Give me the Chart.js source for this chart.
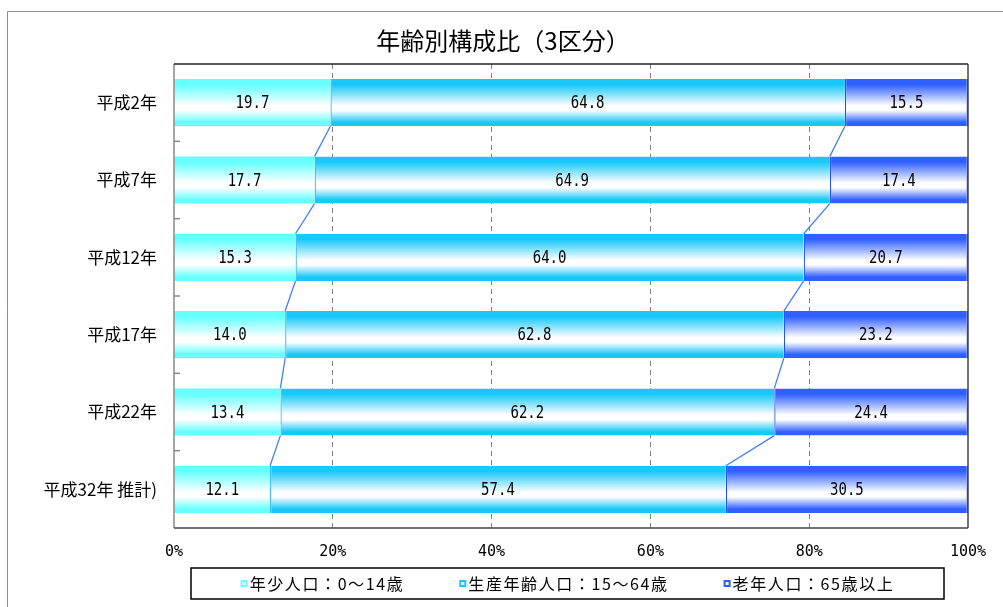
<!DOCTYPE html>
<html lang="ja">
<head>
<meta charset="utf-8">
<script src="https://cdn.jsdelivr.net/npm/chart.js@4.4.1/dist/chart.umd.min.js"></script>
<style>
html,body{margin:0;padding:0;background:#fff;}
canvas{display:block;}
</style>
</head>
<body>
<canvas id="canvas" width="1003" height="607"></canvas>
<script>
var years = ['平成2年','平成7年','平成12年','平成17年','平成22年','平成32年 推計)'];
var young = [19.7,17.7,15.3,14.0,13.4,12.1];
var working = [64.8,64.9,64.0,62.8,62.2,57.4];
var old = [15.5,17.4,20.7,23.2,24.4,30.5];
var seriesNames = ['年少人口：0～14歳','生産年齢人口：15～64歳','老年人口：65歳以上'];
var chartTitle = '年齢別構成比（3区分）';

var colors = ['#66FFFF','#18C8F8','#3060FF'];
var edgeColors = ['#40E8F0','#20A8F0','#2050FF'];
var BAR_PCT = 0.61;

// vertical gradient inside each bar: colour - white - colour
function barFill(color){
  return function(ctx){
    var chart = ctx.chart, ys = chart.scales.y;
    if(ctx.type !== 'data' || !chart.chartArea || !ys) return color;
    var c = ys.getPixelForValue(ctx.dataIndex);
    var h = (ys.bottom - ys.top) / years.length * BAR_PCT;
    var g = chart.ctx.createLinearGradient(0, c - h/2, 0, c + h/2);
    g.addColorStop(0, color);
    g.addColorStop(0.12, color);
    g.addColorStop(0.56, '#ffffff');
    g.addColorStop(0.66, '#ffffff');
    g.addColorStop(0.92, color);
    g.addColorStop(1, color);
    return g;
  };
}

var decor = {
  id: 'decor',
  beforeDraw: function(chart){
    var ctx = chart.ctx;
    ctx.save();
    ctx.strokeStyle = '#8c8c8c';
    ctx.lineWidth = 1;
    ctx.beginPath();
    ctx.moveTo(7.5, 607); ctx.lineTo(7.5, 11.5); ctx.lineTo(1003, 11.5);
    ctx.stroke();
    ctx.fillStyle = '#000';
    ctx.font = '24px "Noto Sans CJK JP"';
    ctx.textAlign = 'center';
    ctx.textBaseline = 'middle';
    ctx.fillText(chartTitle, 503, 41);
    ctx.restore();
  },
  afterDatasetsDraw: function(chart){
    var ctx = chart.ctx, ca = chart.chartArea, ys = chart.scales.y;
    ctx.save();
    // connector lines between bars
    ctx.strokeStyle = '#4080F8';
    ctx.lineWidth = 1.3;
    [0,1].forEach(function(d){
      var els = chart.getDatasetMeta(d).data;
      for(var i = 0; i < els.length - 1; i++){
        var a = els[i].getProps(['x','y','height'], true);
        var b = els[i+1].getProps(['x','y','height'], true);
        ctx.beginPath();
        ctx.moveTo(a.x, a.y + a.height/2);
        ctx.lineTo(b.x, b.y - b.height/2);
        ctx.stroke();
      }
    });
    // value labels (stretched a little to look like the tall narrow original font)
    ctx.fillStyle = '#000';
    ctx.font = '14px "DejaVu Sans Mono"';
    ctx.textAlign = 'center';
    ctx.textBaseline = 'middle';
    chart.data.datasets.forEach(function(ds, d){
      chart.getDatasetMeta(d).data.forEach(function(el, i){
        var p = el.getProps(['x','y','base'], true);
        ctx.save();
        ctx.translate((p.x + p.base)/2, p.y + 1);
        ctx.scale(1, 1.3);
        ctx.fillText(ds.data[i].toFixed(1), 0, 0);
        ctx.restore();
      });
    });
    // frame
    ctx.lineWidth = 1.5;
    ctx.strokeStyle = '#888';
    ctx.beginPath(); ctx.moveTo(ca.left, ca.top); ctx.lineTo(ca.left, ca.bottom); ctx.stroke();
    for(var i = 1; i < years.length; i++){
      var y = (ys.getPixelForValue(i-1) + ys.getPixelForValue(i)) / 2;
      ctx.beginPath(); ctx.moveTo(ca.left, y); ctx.lineTo(ca.left + 6, y); ctx.stroke();
    }
    ctx.strokeStyle = '#222';
    ctx.beginPath(); ctx.moveTo(ca.left, ca.top); ctx.lineTo(ca.right, ca.top); ctx.stroke();
    ctx.strokeStyle = '#444';
    ctx.beginPath(); ctx.moveTo(ca.right, ca.top); ctx.lineTo(ca.right, ca.bottom); ctx.stroke();
    ctx.beginPath(); ctx.moveTo(ca.left, ca.bottom); ctx.lineTo(ca.right, ca.bottom); ctx.stroke();
    ctx.restore();
  },
  afterDraw: function(chart){
    // legend box
    var ctx = chart.ctx, ca = chart.chartArea;
    var boxX = ca.left + 17, boxW = ca.right - ca.left - 41, boxY = 568, boxH = 31;
    ctx.save();
    ctx.strokeStyle = '#000';
    ctx.lineWidth = 1.5;
    ctx.strokeRect(boxX, boxY, boxW, boxH);
    ctx.font = '16px "Noto Sans CJK JP"';
    ctx.letterSpacing = '1.6px';
    var widths = seriesNames.map(function(n){ return ctx.measureText(n).width; });
    var gap = 55, mk = 7, total = gap * 2;
    widths.forEach(function(w){ total += mk + 2 + w; });
    var x = boxX + (boxW - total) / 2, cy = boxY + boxH/2;
    ctx.textBaseline = 'middle';
    ctx.textAlign = 'left';
    seriesNames.forEach(function(n, i){
      ctx.fillStyle = '#eefcff';
      ctx.fillRect(x, cy - 3.5, mk, mk);
      ctx.strokeStyle = colors[i];
      ctx.lineWidth = 2;
      ctx.strokeRect(x + 1, cy - 2.5, mk - 2, mk - 2);
      ctx.fillStyle = '#000';
      ctx.fillText(n, x + mk + 2, cy);
      x += mk + 2 + widths[i] + gap;
    });
    ctx.restore();
  }
};

var datasets = [young, working, old].map(function(vals, i){
  return {
    label: seriesNames[i],
    data: vals,
    backgroundColor: barFill(colors[i]),
    borderColor: edgeColors[i],
    borderWidth: i === 0 ? 0 : (i === 1 ? {left:1.3, right:0, top:0, bottom:0} : {left:1.3, right:1.5, top:0, bottom:0}),
    borderSkipped: false,
    inflateAmount: 0,
    barPercentage: BAR_PCT,
    categoryPercentage: 1
  };
});

var ctx = document.getElementById('canvas').getContext('2d');
var myChart = new Chart(ctx, {
  type: 'bar',
  data: { labels: years, datasets: datasets },
  options: {
    indexAxis: 'y',
    responsive: false,
    animation: false,
    layout: { padding: { top: 64, right: 35, bottom: 0, left: 0 } },
    plugins: { legend: { display: false }, title: { display: false }, tooltip: { enabled: false } },
    scales: {
      x: {
        stacked: true,
        min: 0,
        max: 100,
        ticks: {
          stepSize: 20,
          padding: 15,
          color: '#000',
          font: { family: 'DejaVu Sans Mono', size: 15 },
          callback: function(v){ return v + '%'; }
        },
        grid: {
          drawTicks: false,
          lineWidth: 1,
          color: function(c){ return (c.tick && (c.tick.value === 0 || c.tick.value === 100)) ? 'rgba(0,0,0,0)' : '#808080'; }
        },
        border: { display: false, dash: [5, 4] },
        afterFit: function(s){ s.height = 79; }
      },
      y: {
        stacked: true,
        ticks: { padding: 17, color: '#000', font: { family: 'Noto Sans CJK JP', size: 17 } },
        grid: { display: false, drawTicks: false },
        border: { display: false },
        afterFit: function(s){ s.width = 174; }
      }
    }
  },
  plugins: [decor]
});
</script>
</body>
</html>
